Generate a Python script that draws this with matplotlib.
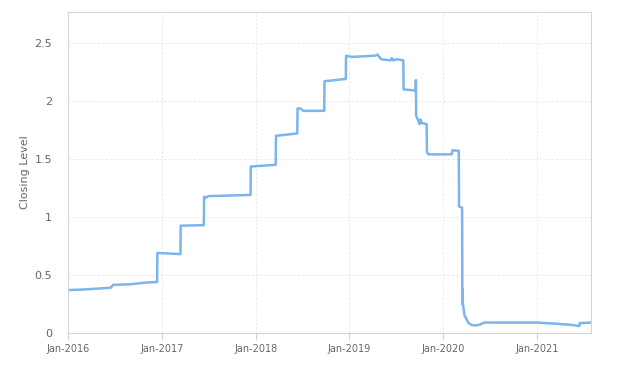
import matplotlib.pyplot as plt
import matplotlib.dates as mdates
from matplotlib.ticker import FuncFormatter
import pandas as pd

# vertices of the closing level line
dates = [
    "2016-01-01", "2016-03-01", "2016-06-15", "2016-06-25", "2016-09-01",
    "2016-11-01", "2016-12-13", "2016-12-14", "2017-03-14", "2017-03-15",
    "2017-06-13", "2017-06-14", "2017-06-20", "2017-07-01", "2017-12-12",
    "2017-12-13", "2018-03-20", "2018-03-21", "2018-06-12", "2018-06-13",
    "2018-06-25", "2018-07-05", "2018-09-25", "2018-09-26", "2018-12-18",
    "2018-12-19", "2019-01-10", "2019-04-10", "2019-04-20", "2019-05-05",
    "2019-06-10", "2019-06-15", "2019-06-20", "2019-07-05", "2019-07-30",
    "2019-07-31", "2019-09-16", "2019-09-17", "2019-09-18", "2019-09-25",
    "2019-10-01", "2019-10-05", "2019-10-10", "2019-10-29", "2019-10-30",
    "2019-11-05", "2020-02-03", "2020-02-07", "2020-03-02", "2020-03-03",
    "2020-03-15", "2020-03-16", "2020-03-17", "2020-03-18", "2020-03-25",
    "2020-04-08", "2020-04-20", "2020-05-01", "2020-05-20", "2020-06-10",
    "2021-01-01", "2021-03-15", "2021-05-15", "2021-06-15", "2021-06-16",
    "2021-07-30",
]
closing = [
    0.37, 0.375, 0.39, 0.415, 0.42,
    0.435, 0.44, 0.69, 0.68, 0.925,
    0.93, 1.175, 1.165, 1.18, 1.19,
    1.435, 1.45, 1.70, 1.72, 1.935,
    1.935, 1.915, 1.915, 2.17, 2.19,
    2.39, 2.38, 2.39, 2.40, 2.36,
    2.35, 2.37, 2.35, 2.36, 2.35,
    2.10, 2.09, 2.18, 1.87, 1.84,
    1.80, 1.84, 1.81, 1.80, 1.56,
    1.54, 1.54, 1.575, 1.57, 1.09,
    1.08, 0.25, 0.38, 0.25, 0.15,
    0.09, 0.07, 0.065, 0.07, 0.09,
    0.09, 0.08, 0.07, 0.06, 0.085,
    0.09,
]
y_ticks = [0, 0.5, 1, 1.5, 2, 2.5]
x_ticks = ["2016-01-01", "2017-01-01", "2018-01-01", "2019-01-01",
           "2020-01-01", "2021-01-01"]

fig = plt.figure(figsize=(6.31, 3.66), dpi=100)
ax = fig.add_axes([68 / 631, 33 / 366, 523 / 631, 321 / 366])

ax.plot(pd.to_datetime(dates), closing, color="#7cb5ec", lw=1.8)

ax.set_xlim(pd.Timestamp("2016-01-01"), pd.Timestamp("2021-07-30"))
ax.set_ylim(0, 2.767)
ax.set_yticks(y_ticks)
ax.yaxis.set_major_formatter(FuncFormatter(lambda v, p: f"{v:g}"))
ax.set_xticks(pd.to_datetime(x_ticks))
ax.xaxis.set_major_formatter(mdates.DateFormatter("%b-%Y"))

ax.grid(True, color="#e6e6e6", ls=(0, (3, 2)), lw=0.6)
for s in ax.spines.values():
    s.set_color("#d6d6d6")
ax.spines["bottom"].set_color("#ccd6eb")
ax.tick_params(axis="y", length=0, pad=11.5, labelsize=8, labelcolor="#666666")
ax.tick_params(axis="x", length=5, color="#ccd6eb", pad=3, labelsize=7,
               labelcolor="#666666")
ax.set_ylabel("Closing Level", fontsize=8, color="#666666")
ax.yaxis.set_label_coords(-38 / 523, 0.5)

fig.savefig("out.png", dpi=100)
